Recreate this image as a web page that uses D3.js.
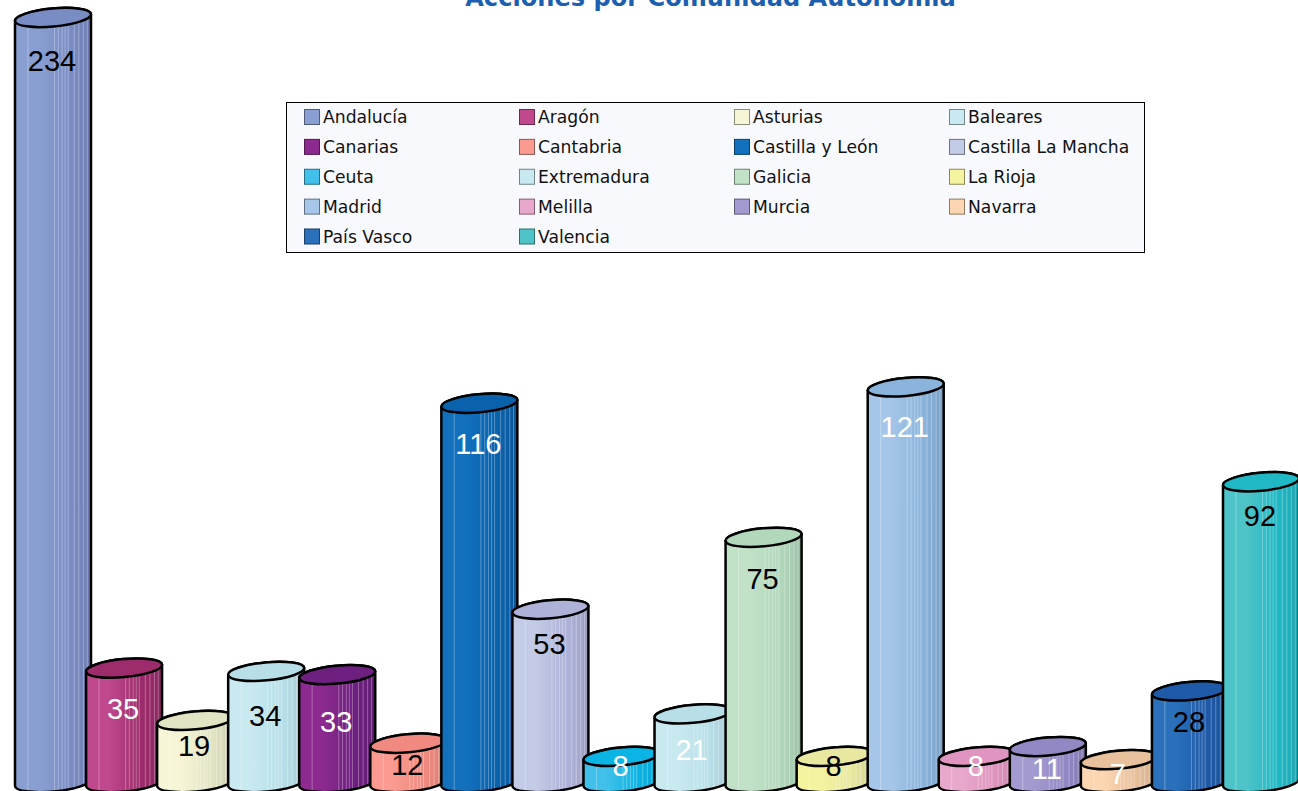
<!DOCTYPE html>
<html><head><meta charset="utf-8">
<script src="https://cdn.jsdelivr.net/npm/d3@7"></script>
<style>html,body{margin:0;padding:0;background:#fff;overflow:hidden}svg{display:block}</style>
</head><body><svg id="c" width="1298" height="791"></svg>
<script>
const categories=["Andalucía","Aragón","Asturias","Baleares","Canarias","Cantabria","Castilla y León","Castilla La Mancha","Ceuta","Extremadura","Galicia","La Rioja","Madrid","Melilla","Murcia","Navarra","País Vasco","Valencia"];
const values=[234,35,19,34,33,12,116,53,8,21,75,8,121,8,11,7,28,92];
const colors=["#8a9fd1","#c0488c","#f6f6d6","#c9e9f0","#8c2a90","#fa9a90","#1270bd","#c3cbe6","#40c0ea","#c9e9f0","#c2e2c8","#f4f3a0","#a5c6e8","#e8a8cc","#a39bcf","#fcd6b0","#2a70ba","#4fc4c8"];
const topColors=["#7a8cc4","#9c2c6c","#e3e4c3","#b8dfe8","#6e2080","#f08a80","#0a62ac","#aeb2d8","#0ab4e4","#b8dfe8","#b2d8bc","#e8e8a0","#8ab4dc","#e094c0","#9288c4","#e8c09c","#1e5aa8","#1fb8c4"];
const labelColors=["#000","#fff","#000","#000","#fff","#000","#fff","#000","#fff","#fff","#000","#000","#fff","#fff","#fff","#fff","#000","#000"];
const labelOffsets=[40,37,22,41,43,18,37,31,6,32,38,6,36,6,19,10,27,30];
const stripes=[.17,.52,.57,.62,.66,.7,.78,.84,.9,.95];
const title="Acciones por Comunidad Autonomía";

const W=1298,H=791,cw=76,rise=7,ry=9;
const svg=d3.select("#c");
const x=d3.scalePoint().domain(categories).range([15,1223]);
const y=d3.scaleLinear().domain([0,234]).range([786,21]);
const rx=Math.hypot(cw,rise)/2, rot=-Math.atan2(rise,cw)*180/Math.PI;
const defs=svg.append("defs");
categories.forEach((c,i)=>{
  const a=d3.color(colors[i]),t=d3.color(topColors[i]);
  const g=defs.append("linearGradient").attr("id","g"+i);
  [[0,a],[.3,a],[.72,t],[.86,t.darker(.12)],[1,t.darker(.4)]].forEach(([o,k])=>
    g.append("stop").attr("offset",o).attr("stop-color",k.formatHex()));
});
svg.append("text").attr("x",710.5).attr("y",6).attr("text-anchor","middle")
  .attr("font-family","'DejaVu Sans',sans-serif").attr("font-weight","bold").attr("font-size",24.1)
  .attr("fill","#1c5fb0").text(title);

const sides=(l,t,b)=>`M${l},${t}L${l},${b}A${rx},${ry} ${rot} 0 0 ${l+cw},${b-rise}L${l+cw},${t-rise}A${rx},${ry} ${rot} 0 0 ${l},${t}Z`;
const bars=svg.selectAll("g.bar").data(categories).join("g").attr("class","bar");
bars.each(function(c,i){
  const g=d3.select(this),l=x(c),t=y(values[i]),b=y(0);
  const clip="cl"+i;
  defs.append("clipPath").attr("id",clip).append("path").attr("d",sides(l,t,b));
  g.append("path").attr("d",sides(l,t,b)).attr("fill",`url(#g${i})`);
  g.append("g").attr("clip-path",`url(#${clip})`).selectAll("line").data(stripes).join("line")
    .attr("x1",f=>l+f*cw).attr("x2",f=>l+f*cw).attr("y1",t-rise-ry).attr("y2",b+ry)
    .attr("stroke","#fff").attr("stroke-opacity",.3).attr("stroke-width",1);
  g.append("path").attr("d",sides(l,t,b)).attr("fill","none").attr("stroke","#000").attr("stroke-width",2.5).attr("stroke-linejoin","round");
  g.append("ellipse").attr("cx",0).attr("cy",0).attr("rx",rx).attr("ry",ry)
    .attr("transform",`translate(${l+cw/2},${t-rise/2}) rotate(${rot})`)
    .attr("fill",topColors[i]).attr("stroke","#000").attr("stroke-width",2.5);
  g.append("text").attr("x",l+cw/2-1).attr("y",t+labelOffsets[i]).attr("dy",".36em").attr("text-anchor","middle")
    .attr("font-family","'Liberation Sans',Arial,sans-serif").attr("font-size",29).attr("fill",labelColors[i]).text(values[i]);
});

const lg=svg.append("g");
lg.append("rect").attr("x",286.5).attr("y",102.5).attr("width",858).attr("height",150)
  .attr("fill","#f8f9fd").attr("stroke","#000").attr("stroke-width",1);
const colX=d3.scalePoint().domain(d3.range(4)).range([304.5,949.5]);
const rowY=d3.scalePoint().domain(d3.range(5)).range([117,236.5]);
const items=lg.selectAll("g").data(categories).join("g")
  .attr("transform",(c,i)=>`translate(${colX(i%4)},${rowY(Math.floor(i/4))})`);
items.append("rect").attr("x",0).attr("y",-7.5).attr("width",15).attr("height",15)
  .attr("fill",(c,i)=>colors[i]).attr("stroke",(c,i)=>d3.color(colors[i]).darker(1.6).formatHex()).attr("stroke-width",1);
items.append("text").attr("x",18.5).attr("y",0).attr("dy",".36em")
  .attr("font-family","'DejaVu Sans',sans-serif").attr("font-size",17.2).attr("fill","#111").text(c=>c);
</script></body></html>
